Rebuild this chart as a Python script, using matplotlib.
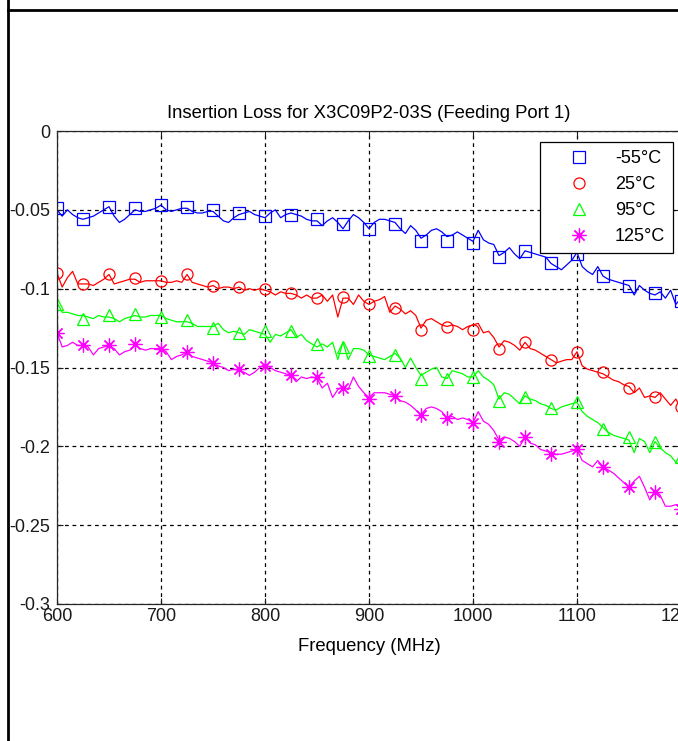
import numpy as np
import matplotlib
matplotlib.use("Agg")
import matplotlib.pyplot as plt
from matplotlib.lines import Line2D

plt.rcParams['font.family'] = ['Liberation Sans', 'DejaVu Sans']

# sweep (every 5 MHz) and marker frequencies (every 25 MHz)
freq = np.arange(600, 1201, 5)
freq_mk = np.arange(600, 1201, 25)

# insertion loss, in thousandths of dB (negated below)
loss_m55 = [50, 54, 50, 53, 55,  56, 55, 54, 52, 50,  48, 54, 58, 56, 53,
            50, 51, 51, 50, 49,  47, 50, 51, 50, 49,  49, 51, 52, 52, 51,
            51, 54, 57, 58, 55,  53, 52, 51, 53, 54,  55, 52, 50, 55, 53,
            52, 53, 54, 56, 57,  57, 60, 57, 55, 58,  62, 57, 53, 55, 58,
            62, 58, 56, 56, 57,  58, 62, 65, 60, 63,  68, 66, 63, 62, 64,
            67, 66, 64, 66, 68,  70, 63, 69, 71, 72,  79, 77, 74, 78, 81,
            76, 77, 78, 79, 80,  84, 86, 88, 85, 82,  77, 86, 89, 91, 86,
            92, 94, 95, 96, 97,  98, 104, 98, 101, 103,  104, 102, 106, 101, 110,
            106]
loss_25 = [90, 99, 93, 89, 97,  97, 97, 98, 96, 94,  91, 97, 96, 95, 94,
           94, 96, 95, 95, 95,  95, 96, 96, 95, 96,  91, 96, 97, 98, 99,
           98, 100, 99, 99, 100,  99, 101, 100, 101, 100,  101, 102, 104, 102, 103,
           103, 104, 106, 104, 106,  106, 104, 108, 104, 118,  106, 106, 110, 104, 108,
           110, 108, 107, 105, 115,  111, 113, 116, 114, 117,  125, 120, 119, 121, 123,
           124, 123, 124, 126, 124,  123, 122, 128, 127, 131,  137, 133, 134, 136, 139,
           134, 138, 139, 141, 143,  145, 147, 146, 145, 145,  140, 149, 151, 152, 153,
           154, 156, 158, 159, 161,  162, 166, 163, 169, 168,  169, 166, 170, 174, 170,
           176]
loss_95 = [109, 115, 115, 116, 117,  117, 118, 119, 117, 118,  118, 119, 121, 119, 118,
           117, 118, 118, 117, 117,  117, 119, 120, 121, 121,  121, 122, 124, 124, 124,
           124, 122, 126, 128, 127,  128, 129, 126, 127, 128,  129, 134, 129, 130, 128,
           126, 131, 129, 133, 135,  137, 135, 137, 134, 145,  134, 145, 138, 138, 139,
           142, 143, 144, 145, 143,  141, 144, 150, 144, 150,  155, 153, 151, 150, 156,
           157, 152, 153, 154, 156,  156, 152, 156, 158, 161,  170, 166, 167, 170, 173,
           168, 170, 171, 173, 174,  176, 177, 175, 174, 173,  172, 178, 181, 183, 185,
           188, 191, 193, 194, 195,  196, 204, 195, 197, 204,  197, 201, 204, 206, 210,
           212]
loss_125 = [128, 137, 136, 134, 136,  136, 137, 142, 138, 137,  136, 138, 142, 140, 139,
            136, 138, 139, 138, 138,  138, 140, 145, 143, 142,  140, 143, 144, 145, 146,
            147, 149, 150, 152, 151,  152, 153, 155, 153, 150,  148, 150, 152, 153, 154,
            155, 159, 156, 157, 156,  157, 163, 160, 169, 164,  162, 164, 156, 162, 166,
            169, 166, 166, 166, 167,  168, 171, 172, 174, 177,  180, 176, 175, 176, 178,
            182, 181, 183, 182, 183,  185, 178, 184, 186, 190,  196, 194, 195, 197, 200,
            194, 198, 199, 202, 203,  204, 205, 205, 204, 203,  202, 209, 211, 213, 209,
            213, 215, 217, 220, 223,  226, 222, 219, 226, 234,  228, 231, 238, 238, 237,
            238]

mk_m55 = [49, 56, 48, 49, 47, 48, 50, 52, 54, 53, 56, 59, 62, 59, 70, 70, 71,
          80, 76, 84, 78, 92, 98, 103, 108]
mk_25 = [90, 97, 91, 93, 95, 91, 98, 99, 100, 103, 106, 105, 110, 112, 126,
         124, 126, 138, 134, 145, 140, 153, 163, 169, 175]
mk_95 = [110, 119, 117, 116, 118, 120, 125, 128, 127, 127, 135, 137, 143, 142,
         157, 157, 156, 171, 169, 176, 172, 189, 194, 197, 207]
mk_125 = [128, 136, 136, 135, 138, 140, 147, 151, 149, 155, 156, 163, 170, 168,
          180, 182, 185, 197, 194, 205, 202, 213, 226, 229, 240]

labels = ['-55\u00b0C', '25\u00b0C', '95\u00b0C', '125\u00b0C']
colors = ['#0000ff', '#ff0000', '#00ff00', '#ff00ff']
markers = ['s', 'o', '^', (8, 2, 0)]
msizes = [9, 8, 9, 10]

fig = plt.figure(figsize=(6.78, 7.41), dpi=100)
ax = fig.add_axes([57 / 678, 1 - 604 / 741, 624 / 678, 473 / 741])

lines = [loss_m55, loss_25, loss_95, loss_125]
mks = [mk_m55, mk_25, mk_95, mk_125]
handles = []
for ln, mk, c, m, ms, lab in zip(lines, mks, colors, markers, msizes, labels):
    ax.plot(freq, -np.array(ln) / 1000, color=c, lw=0.9)
    h, = ax.plot(freq_mk, -np.array(mk) / 1000, ls='none', marker=m, ms=ms,
                 mfc='none', mec=c, mew=0.9, label=lab)
    handles.append(h)

ax.set_xlim(600, 1200)
ax.set_ylim(-0.3, 0)
ax.set_xticks(np.arange(600, 1201, 100))
ax.set_yticks([0, -0.05, -0.1, -0.15, -0.2, -0.25, -0.3])
ax.set_yticklabels(['0', '-0.05', '-0.1', '-0.15', '-0.2', '-0.25', '-0.3'])
ax.grid(True, color='black', ls=(0, (3, 3)), lw=0.9)
ax.tick_params(direction='in', top=True, right=True, length=4, width=0.8,
               labelsize=13, colors='#1a1a1a')
ax.tick_params(axis='x', pad=3)
ax.tick_params(axis='y', pad=5)
for s in ax.spines.values():
    s.set_linewidth(0.9)
    s.set_color('#262626')

ax.set_title('Insertion Loss for X3C09P2-03S (Feeding Port 1)', fontsize=13.3, pad=9)
ax.set_xlabel('Frequency (MHz)', fontsize=13.3, labelpad=9)

leg = fig.legend(handles=handles, loc='upper left',
                 bbox_to_anchor=(540 / 678, 1 - 142 / 741), borderaxespad=0,
                 fontsize=13, fancybox=False, edgecolor='black', framealpha=1,
                 handlelength=3.4, handletextpad=0.3, labelspacing=0.5,
                 borderpad=0.45)
leg.get_frame().set_linewidth(0.9)

# page border lines
fig.add_artist(Line2D([8 / 678, 1], [1 - 10 / 741, 1 - 10 / 741], color='black', lw=2))
fig.add_artist(Line2D([8 / 678, 8 / 678], [0, 1], color='black', lw=2))

fig.savefig('out.png', dpi=100)
